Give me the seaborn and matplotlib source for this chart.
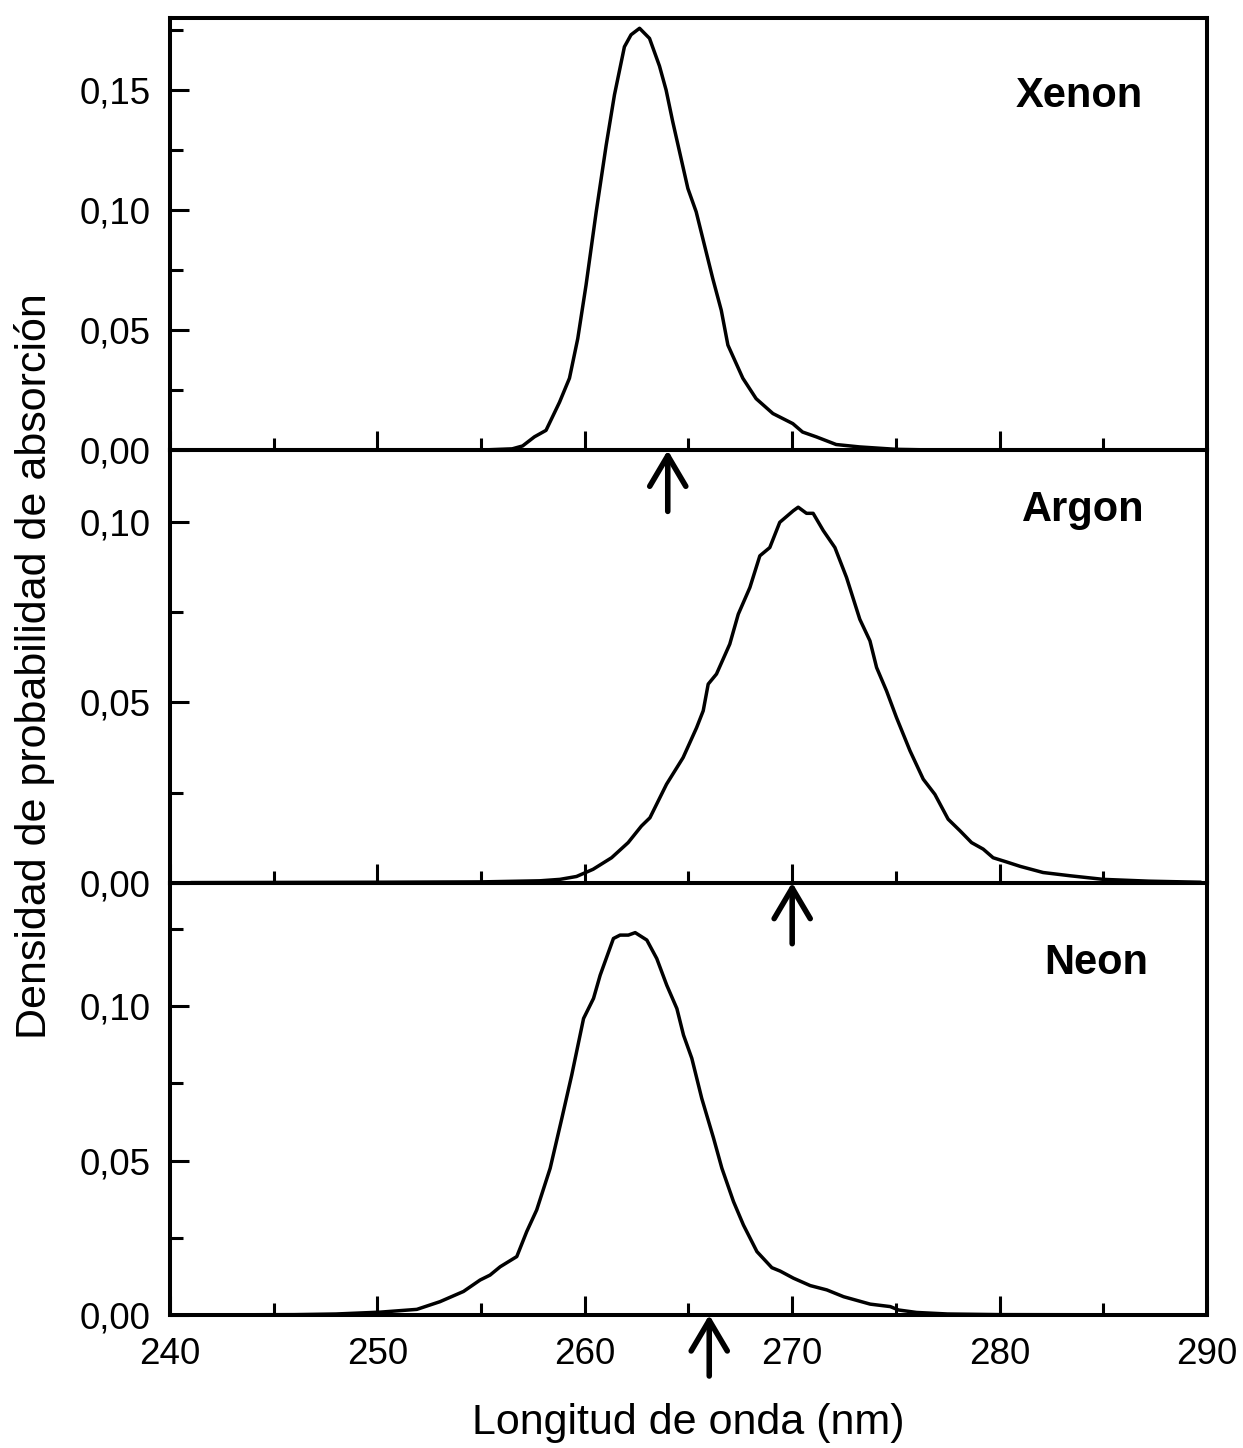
import matplotlib
matplotlib.use("Agg")
import matplotlib.pyplot as plt
import seaborn as sns
from matplotlib.ticker import MultipleLocator, FuncFormatter

# ---------------- data ----------------
xenon_x = [241.0, 250.0, 255.0, 256.5, 257.0, 257.57, 258.13, 258.78, 259.26, 259.66,
           260.06, 260.55, 261.03, 261.43, 261.91, 262.23, 262.64, 263.12, 263.6, 263.92,
           264.24, 264.97, 265.37, 266.17, 266.58, 266.9, 267.62, 268.26, 269.07, 270.03,
           270.5, 271.16, 272.12, 273.25, 275.0, 277.0, 290.0]
xenon_y = [0.0, 0.0, 0.0001, 0.0006, 0.0018, 0.0056, 0.0083, 0.020, 0.030, 0.0465,
           0.0688, 0.0993, 0.127, 0.148, 0.168, 0.173, 0.1757, 0.1715, 0.160, 0.150,
           0.1368, 0.109, 0.0993, 0.0715, 0.0583, 0.0438, 0.030, 0.0215, 0.0153, 0.0111,
           0.0076, 0.0056, 0.0024, 0.0014, 0.0004, 0.0001, 0.0]

argon_x = [241.0, 250.0, 255.0, 257.83, 258.8, 259.6, 260.4, 261.29, 262.09, 262.73,
           263.14, 263.94, 264.74, 265.39, 265.71, 265.95, 266.35, 266.99, 267.4, 267.96,
           268.44, 268.92, 269.4, 270.05, 270.29, 270.69, 271.01, 271.5, 272.06, 272.62,
           273.26, 273.75, 274.07, 274.55, 275.03, 275.68, 276.32, 276.88, 277.52, 278.09,
           278.65, 279.21, 279.69, 280.3, 281.0, 282.1, 283.4, 285.0, 287.2, 289.7]
argon_y = [0.0, 0.0001, 0.0002, 0.0005, 0.0009, 0.0017, 0.0037, 0.0069, 0.0111, 0.0157,
           0.018, 0.0273, 0.0347, 0.043, 0.0477, 0.0551, 0.0579, 0.0662, 0.0745, 0.0819,
           0.0907, 0.093, 0.100, 0.1032, 0.1042, 0.1025, 0.1025, 0.0977, 0.093, 0.0847,
           0.0731, 0.0671, 0.0597, 0.0532, 0.0458, 0.0366, 0.0287, 0.0245, 0.0176, 0.0144,
           0.0111, 0.0093, 0.0069, 0.0058, 0.0045, 0.0028, 0.0019, 0.0009, 0.0004, 0.0001]

neon_x = [241.0, 246.0, 248.0, 250.13, 251.9, 253.02, 254.15, 254.95, 255.43, 255.92,
          256.72, 257.2, 257.68, 258.33, 258.89, 259.37, 259.94, 260.42, 260.74, 261.38,
          261.7, 262.1, 262.43, 262.99, 263.47, 263.95, 264.44, 264.76, 265.16, 265.64,
          266.21, 266.61, 267.17, 267.65, 268.3, 269.02, 269.42, 270.06, 270.87, 271.67,
          272.48, 273.76, 274.73, 275.13, 276.0, 277.5, 280.0, 290.0]
neon_y = [0.0, 0.0001, 0.0003, 0.0009, 0.0018, 0.0043, 0.0076, 0.0113, 0.0129, 0.0156,
          0.0189, 0.027, 0.034, 0.0475, 0.0636, 0.0777, 0.096, 0.1025, 0.110, 0.1219,
          0.123, 0.123, 0.1238, 0.1214, 0.1154, 0.1068, 0.0992, 0.0906, 0.0831, 0.0701,
          0.0572, 0.0475, 0.0367, 0.0291, 0.0205, 0.0153, 0.0142, 0.0119, 0.0095, 0.0081,
          0.0059, 0.0035, 0.0027, 0.0016, 0.0008, 0.0003, 0.0001, 0.0]

gases = ["Xenon", "Argon", "Neon"]
series_x = [xenon_x, argon_x, neon_x]
series_y = [xenon_y, argon_y, neon_y]
arrow_x = [264.0, 270.0, 266.0]
y_max = [0.18, 0.12, 0.14]
label_pos = [(286.9, 0.1475), (287.0, 0.1033), (287.15, 0.1139)]

# ---------------- style ----------------
sns.set_style("ticks")
plt.rcParams['font.family'] = ['Liberation Sans', 'DejaVu Sans']
plt.rcParams['text.color'] = 'black'
plt.rcParams['axes.labelcolor'] = 'black'
plt.rcParams['xtick.color'] = 'black'
plt.rcParams['ytick.color'] = 'black'

fig, axes = plt.subplots(3, 1, figsize=(12.43, 14.48), dpi=100, sharex=True)
fig.subplots_adjust(left=0.1368, right=0.971, top=0.9876, bottom=0.0919, hspace=0)

comma_fmt = FuncFormatter(lambda v, p: f"{v:.2f}".replace('.', ','))

for ax, name, xs, ys, ax_x, ym, lp in zip(axes, gases, series_x, series_y,
                                          arrow_x, y_max, label_pos):
    ax.set_facecolor('none')
    sns.lineplot(x=xs, y=ys, ax=ax, color='black', linewidth=2.5, sort=False,
                 legend=False, solid_joinstyle='round', solid_capstyle='round')
    ax.set_xlim(240, 290)
    ax.set_ylim(0, ym)
    for s in ax.spines.values():
        s.set_visible(True)
        s.set_linewidth(2.9)
        s.set_color('black')
    ax.xaxis.set_major_locator(MultipleLocator(10))
    ax.xaxis.set_minor_locator(MultipleLocator(5))
    ax.yaxis.set_major_locator(MultipleLocator(0.05))
    ax.yaxis.set_minor_locator(MultipleLocator(0.025))
    ax.yaxis.set_major_formatter(comma_fmt)
    ax.tick_params(which='both', direction='in', top=False, right=False,
                   width=2.2, color='black', labelcolor='black', labelsize=26.5)
    ax.tick_params(which='major', length=14)
    ax.tick_params(which='minor', length=9)
    ax.tick_params(axis='y', pad=14)
    ax.tick_params(axis='x', pad=16)
    ax.set_ylabel('')
    ax.set_xlabel('')
    ax.text(lp[0], lp[1], name, ha='right', va='center', fontsize=30,
            fontweight='bold', color='black')
    ax.annotate('', xy=(ax_x, 0), xycoords='data',
                xytext=(0, -44), textcoords='offset points',
                arrowprops=dict(arrowstyle='->,head_length=1.1,head_width=0.65',
                                lw=4.0, color='black', mutation_scale=20,
                                shrinkA=0, shrinkB=0, capstyle='round',
                                joinstyle='round'),
                annotation_clip=False, zorder=10)

axes[2].set_xlabel('Longitud de onda (nm)', fontsize=31, labelpad=22, color='black')
fig.text(0.028, 0.54, 'Densidad de probabilidad de absorción', rotation=90,
         ha='center', va='center', fontsize=31, color='black')

fig.savefig('out.png', dpi=100, facecolor='white')
